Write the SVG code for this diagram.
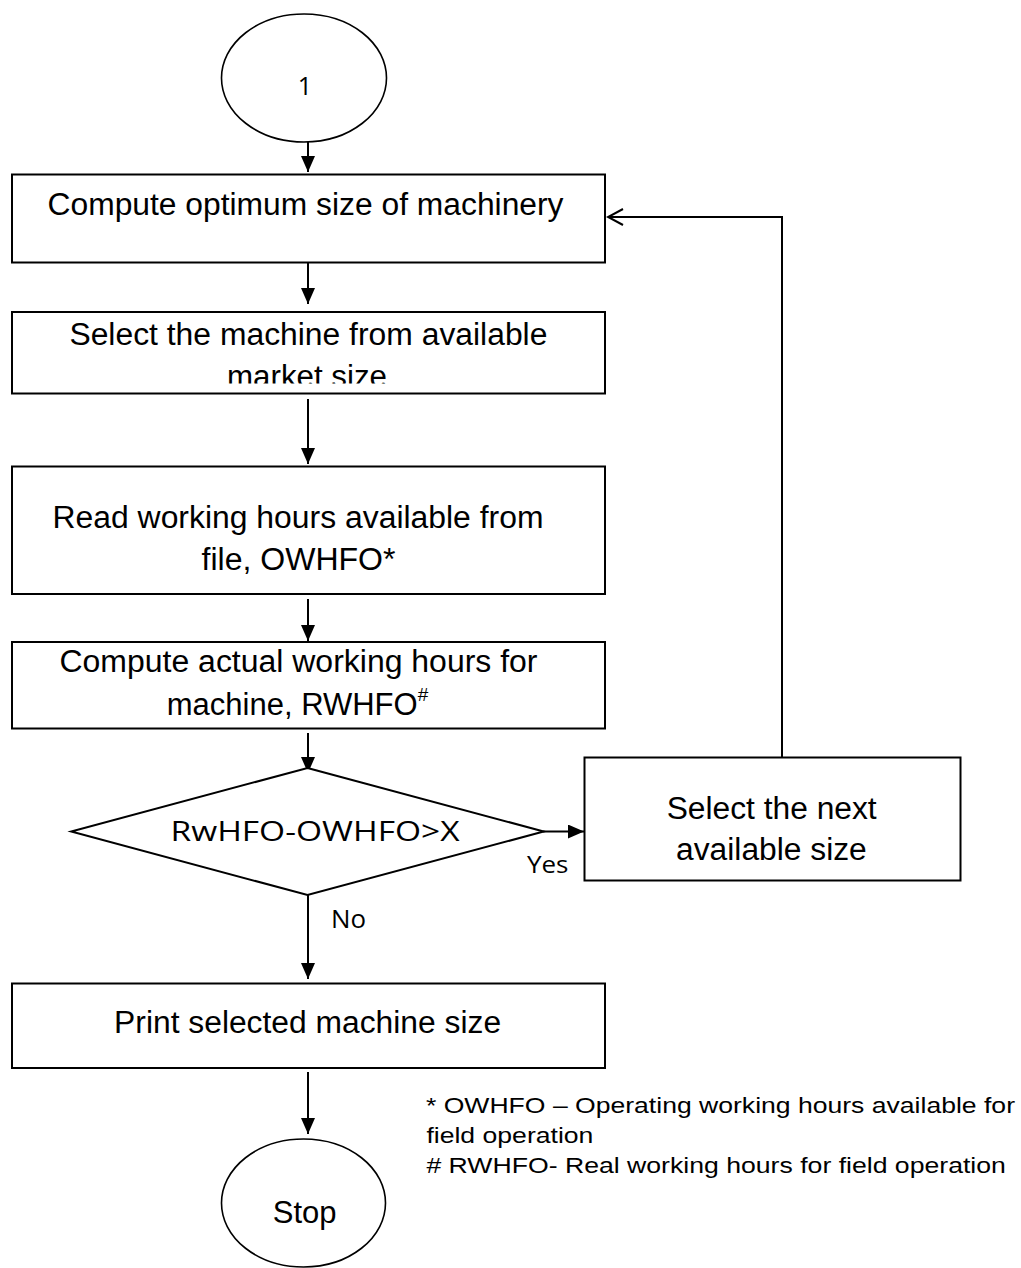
<svg xmlns="http://www.w3.org/2000/svg" width="1021" height="1268" viewBox="0 0 1021 1268">
<style>
.shape{fill:#fff;stroke:#000;stroke-width:2}
.ell{fill:#fff;stroke:#000;stroke-width:1.6}
.t{font-family:"Liberation Sans",Arial,sans-serif;font-size:31px;fill:#000;text-anchor:middle}
.c{font-family:"Open Sans","Noto Sans",sans-serif;fill:#000}
.fn{font-family:"Liberation Sans",Arial,sans-serif;font-size:22px;fill:#000}
.conn{fill:none;stroke:#000;stroke-width:2}
</style>
<defs>
<marker id="ah" markerWidth="16" markerHeight="14" refX="16" refY="7" orient="auto" markerUnits="userSpaceOnUse"><path d="M0,0 L16,7 L0,14 Z" fill="#000"/></marker>
<marker id="oh" markerWidth="18" markerHeight="18" refX="16" refY="9" orient="auto" markerUnits="userSpaceOnUse"><path d="M1,1 L16,9 L1,17" fill="none" stroke="#000" stroke-width="2"/></marker>
<clipPath id="clip2"><rect x="12" y="311" width="594" height="72.5"/></clipPath>
</defs>
<rect width="1021" height="1268" fill="#fff"/>
<g id="connectors">
<line class="conn" x1="308" y1="142" x2="308" y2="172" marker-end="url(#ah)"/>
<line class="conn" x1="308" y1="262" x2="308" y2="304" marker-end="url(#ah)"/>
<line class="conn" x1="308" y1="399" x2="308" y2="464" marker-end="url(#ah)"/>
<line class="conn" x1="308" y1="599" x2="308" y2="641" marker-end="url(#ah)"/>
<line class="conn" x1="308" y1="733" x2="308" y2="773" marker-end="url(#ah)"/>
<line class="conn" x1="308" y1="895" x2="308" y2="979" marker-end="url(#ah)"/>
<line class="conn" x1="308" y1="1072" x2="308" y2="1134" marker-end="url(#ah)"/>
<line class="conn" x1="543" y1="831.5" x2="584" y2="831.5" marker-end="url(#ah)"/>
<polyline class="conn" stroke-width="1.6" points="782,757 782,217 608,217" marker-end="url(#oh)"/>
</g>
<g id="start">
<ellipse class="ell" cx="304" cy="78" rx="82.5" ry="64"/>
<text class="c" x="305" y="94.5" font-size="25" text-anchor="middle">1</text>
</g>
<g id="compute-optimum">
<rect class="shape" x="12" y="174.5" width="593" height="88"/>
<text class="t" x="305.5" y="214.5" textLength="516" lengthAdjust="spacingAndGlyphs">Compute optimum size of machinery</text>
</g>
<g id="select-machine">
<rect class="shape" x="12" y="312" width="593" height="81.5"/>
<g clip-path="url(#clip2)">
<text class="t" x="308.4" y="344.5" textLength="478" lengthAdjust="spacingAndGlyphs">Select the machine from available</text>
<text class="t" x="307" y="386.5" textLength="160" lengthAdjust="spacingAndGlyphs">market size</text>
</g>
</g>
<g id="read-hours">
<rect class="shape" x="12" y="466.5" width="593" height="127.5"/>
<text class="t" x="298" y="528" textLength="491" lengthAdjust="spacingAndGlyphs">Read working hours available from</text>
<text class="t" x="298.5" y="570" textLength="194" lengthAdjust="spacingAndGlyphs">file, OWHFO*</text>
</g>
<g id="compute-actual">
<rect class="shape" x="12" y="642" width="593" height="86.5"/>
<text class="t" x="298.5" y="671.5" textLength="478" lengthAdjust="spacingAndGlyphs">Compute actual working hours for</text>
<text class="t" x="297.5" y="714.5">machine, RWHFO<tspan font-size="19" dy="-14">#</tspan></text>
</g>
<g id="decision">
<polygon class="shape" stroke-width="1.8" points="307.5,768 543.7,831.5 307.5,895 71.2,831.5"/>
<text class="c" x="315" y="841" font-size="28" text-anchor="middle" textLength="289" lengthAdjust="spacingAndGlyphs">RwHFO-OWHFO&gt;X</text>
<text class="c" x="527" y="873" font-size="24" textLength="41.5" lengthAdjust="spacingAndGlyphs">Yes</text>
<text class="c" x="331" y="928" font-size="26" textLength="35" lengthAdjust="spacingAndGlyphs">No</text>
</g>
<g id="select-next">
<rect class="shape" x="584.5" y="757.5" width="376" height="123"/>
<text class="t" x="771.7" y="819" textLength="210" lengthAdjust="spacingAndGlyphs">Select the next</text>
<text class="t" x="771.4" y="860" textLength="190.7" lengthAdjust="spacingAndGlyphs">available size</text>
</g>
<g id="print-size">
<rect class="shape" x="12" y="983.5" width="593" height="84.5"/>
<text class="t" x="307.6" y="1032.5" textLength="387" lengthAdjust="spacingAndGlyphs">Print selected machine size</text>
</g>
<g id="stop">
<ellipse class="ell" cx="303.5" cy="1203" rx="82" ry="64"/>
<text class="t" x="304.7" y="1223">Stop</text>
</g>
<g id="footnote">
<text class="fn" x="426" y="1113" textLength="589" lengthAdjust="spacingAndGlyphs">* OWHFO – Operating working hours available for</text>
<text class="fn" x="426.4" y="1143" textLength="167" lengthAdjust="spacingAndGlyphs">field operation</text>
<text class="fn" x="426.4" y="1173" textLength="579.5" lengthAdjust="spacingAndGlyphs"># RWHFO- Real working hours for field operation</text>
</g>
</svg>
